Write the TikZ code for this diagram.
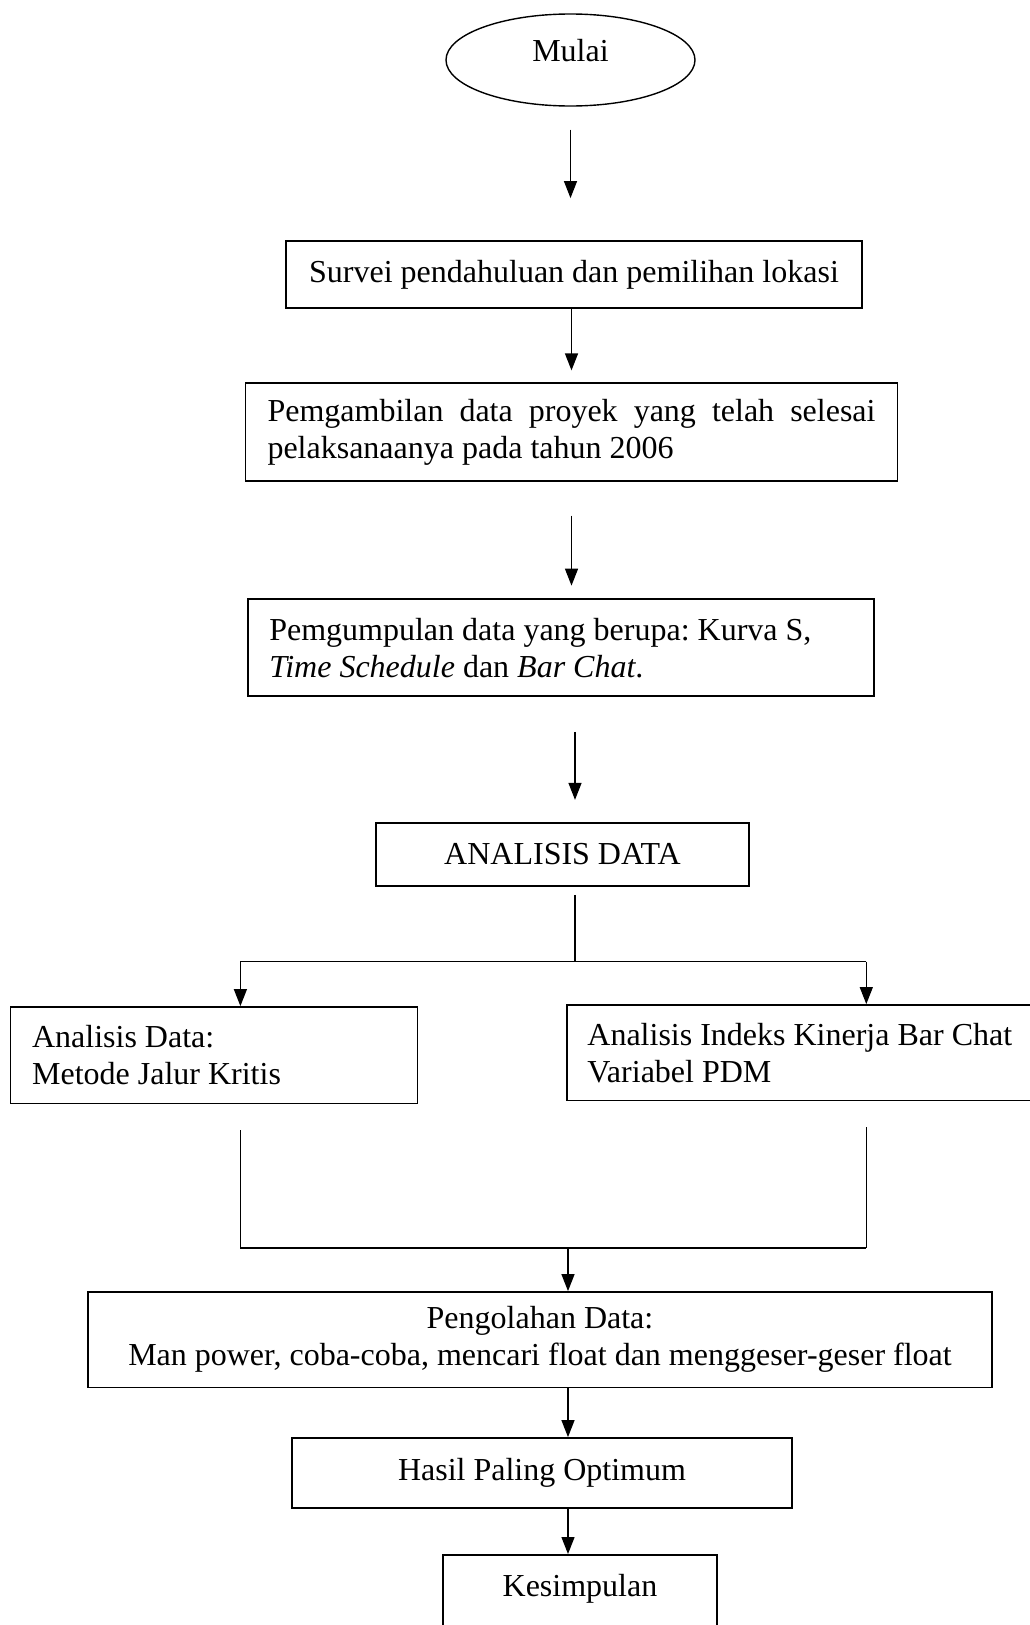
\documentclass[tikz,border=0pt]{standalone}
\usepackage{fontspec}
\setmainfont{Liberation Serif}
\usetikzlibrary{shapes.geometric,arrows.meta,calc}
\begin{document}
\frenchspacing
\begin{tikzpicture}[x=1pt,y=-1pt,
  every node/.style={font=\fontsize{32}{37}\selectfont,
    execute at begin node={\spaceskip=0pt\xspaceskip=0pt\relax}},
  fixsp/.style={execute at begin node={\spaceskip=\fontdimen2\font\xspaceskip=\fontdimen2\font\relax}},
  box/.style={draw, line width=1.8pt, rectangle, inner sep=0pt},
  arr/.style={line width=1.3pt, -{Triangle[length=17pt,width=13pt]}},
  ln/.style={line width=1.3pt}]
\useasboundingbox (0,0) rectangle (1030,1625);
\clip (0,0) rectangle (1030,1625);
\fill[white] (0,0) rectangle (1030,1625);

% nodes
\node[draw, ellipse, line width=1.4pt, inner sep=0pt, minimum width=249pt, minimum height=92pt,
      text height=22pt, text depth=20pt] (start) at (570.5,60) {Mulai};
\node[box, minimum width=576pt, minimum height=67pt] (survei) at (574,274.5)
  {Survei pendahuluan dan pemilihan lokasi};
\node[box, text width=608pt, inner xsep=22pt, minimum height=97.4pt, align=justify] (peng) at (571.5,432)
  {\tolerance=9999 Pemgambilan data proyek yang telah selesai pelaksanaanya pada tahun 2006};
\node[box, fixsp, text width=582.6pt, inner xsep=21.7pt, minimum height=97.3pt, align=left] (kumpul) at (560.6,647.7)
  {Pemgumpulan data yang berupa: Kurva S,\\ \textit{Time Schedule} dan \textit{Bar Chat}.};
\node[box, minimum width=373pt, minimum height=63.3pt] (analisis) at (562.5,854.4) {ANALISIS DATA};
\node[box, fixsp, text width=363.8pt, inner xsep=21.6pt, minimum height=96.5pt, align=left] (left) at (214,1055.25)
  {Analisis Data:\\ Metode Jalur Kritis};
\node[box, fixsp, anchor=west, text width=450pt, inner xsep=20.7pt, minimum height=95.5pt, align=left] (right) at (565.8,1052.75)
  {Analisis Indeks Kinerja Bar Chat\\ Variabel PDM};
\node[box, fixsp, text width=863.6pt, inner xsep=20pt, minimum height=95.5pt, align=center] (olah) at (540,1339.75)
  {Pengolahan Data:\\ Man power, coba-coba, mencari float dan menggeser-geser float};
\node[box, minimum width=500pt, minimum height=69.7pt] (hasil) at (542,1472.85) {Hasil Paling Optimum};
\node[box, anchor=north, minimum width=274pt, inner ysep=0pt, text height=42pt, text depth=64pt] (kes) at (580,1554)
  {Kesimpulan};

% connectors
\draw[arr, shorten <=23pt, shorten >=42pt] (start.south) -- (start.south |- survei.north);
\draw[arr, shorten >=12pt] (peng.north |- survei.south) -- (peng.north);
\draw[arr, shorten <=34pt, shorten >=12.5pt] (peng.south) -- (peng.south |- kumpul.north);
\coordinate (c4) at (575,0);
\draw[arr, shorten <=34.5pt, shorten >=22pt] (c4 |- kumpul.south) -- (c4 |- analisis.north);

\coordinate (split) at (575,961.6);
\coordinate (lj) at (240.4,961.6);
\coordinate (rj) at (866.3,961.6);
\draw[ln, shorten <=8pt] (split |- analisis.south) -- (split);
\draw[ln] (lj) -- (rj);
\draw[arr] (lj) -- (lj |- left.north);
\draw[arr] (rj) -- (rj |- right.north);

\coordinate (lm) at (240.4,1248);
\coordinate (rm) at (866.3,1248);
\coordinate (mm) at (568,1248);
\draw[ln, shorten <=26pt] (lm |- left.south) -- (lm);
\draw[ln, shorten <=26pt] (rm |- right.south) -- (rm);
\draw[ln] (lm) -- (rm);
\draw[arr] (mm) -- (mm |- olah.north);

\coordinate (cb) at (568,0);
\draw[arr] (cb |- olah.south) -- (cb |- hasil.north);
\draw[arr] (cb |- hasil.south) -- (cb |- kes.north);
\end{tikzpicture}
\end{document}
